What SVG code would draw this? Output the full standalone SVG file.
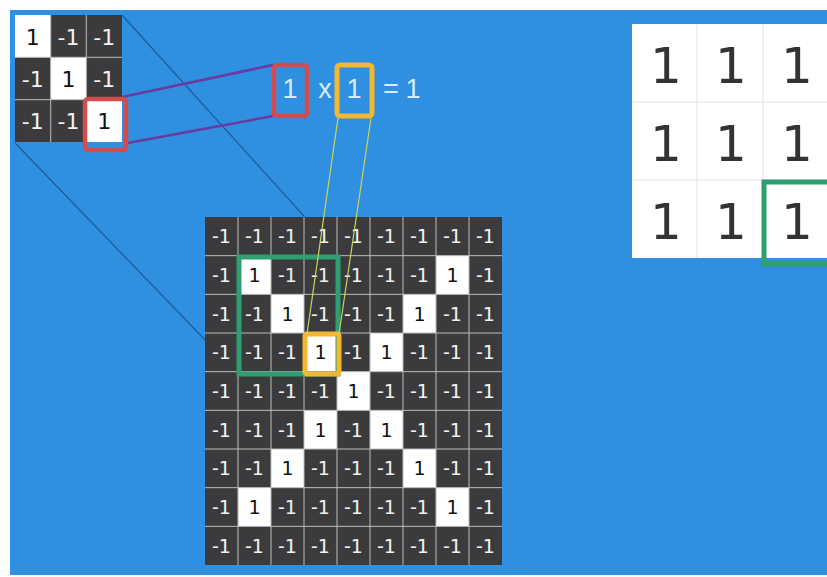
<svg xmlns="http://www.w3.org/2000/svg" width="827" height="577" viewBox="0 0 827 577">
<style>
.cell{fill:#3b3b3d}
.wcell{fill:#ffffff}
.gl{stroke:#bdbdbd;stroke-width:1}
.n{font-family:"DejaVu Sans",sans-serif;fill:#f2f2f2;text-anchor:middle;font-size:19px}
.p{font-family:"DejaVu Sans",sans-serif;fill:#111;text-anchor:middle;font-size:19px}
.kn{font-family:"DejaVu Sans",sans-serif;fill:#f2f2f2;text-anchor:middle;font-size:22px}
.kp{font-family:"DejaVu Sans",sans-serif;fill:#111;text-anchor:middle;font-size:22px}
.big{font-family:"DejaVu Sans",sans-serif;fill:#333;text-anchor:middle;font-size:50px}
.eq{font-family:"Liberation Sans",sans-serif;fill:#d8ecff;text-anchor:middle;font-size:27px}
.thin{stroke:#1d5a99;stroke-width:1.2;fill:none}
.purp{stroke:#6a3a9e;stroke-width:2.5;fill:none}
.yl{stroke:#c9d65a;stroke-width:1.2;fill:none}
.red{fill:none;stroke:#d24b4f;stroke-width:4.5}
.yel{fill:none;stroke:#f3b731;stroke-width:5}
.grn{fill:none;stroke:#2f9f72;stroke-width:5}
</style>
<rect x="0" y="0" width="827" height="577" fill="#ffffff"/>
<rect x="10" y="10" width="817" height="565" fill="#2f8fe0"/>

<g id="connectors">
<line class="thin" x1="122" y1="15" x2="340" y2="256"/>
<line class="thin" x1="15" y1="143" x2="238" y2="374"/>
<line class="purp" x1="122" y1="97" x2="273" y2="65"/>
<line class="purp" x1="128" y1="143" x2="273" y2="116"/>
</g>

<g id="kernel">
<rect x="15" y="15" width="107" height="127" class="cell"/>
<rect x="15" y="15" width="35.7" height="42.3" class="wcell"/>
<rect x="50.7" y="57.3" width="35.6" height="42.4" class="wcell"/>
<rect x="86.3" y="99.7" width="35.7" height="42.3" class="wcell"/>
<line class="gl" x1="50.7" y1="15" x2="50.7" y2="142"/>
<line class="gl" x1="86.3" y1="15" x2="86.3" y2="142"/>
<line class="gl" x1="15" y1="57.3" x2="122" y2="57.3"/>
<line class="gl" x1="15" y1="99.7" x2="122" y2="99.7"/>
<text class="kp" x="32.8" y="44.5">1</text>
<text class="kn" x="68.5" y="44.5">-1</text>
<text class="kn" x="104.2" y="44.5">-1</text>
<text class="kn" x="32.8" y="86.8">-1</text>
<text class="kp" x="68.5" y="86.8">1</text>
<text class="kn" x="104.2" y="86.8">-1</text>
<text class="kn" x="32.8" y="129">-1</text>
<text class="kn" x="68.5" y="129">-1</text>
<text class="kp" x="104.2" y="129">1</text>
<rect class="red" x="85" y="99" width="41" height="51" rx="3"/>
</g>

<g id="equation">
<rect class="red" x="274" y="65" width="33" height="51" rx="3"/>
<text class="eq" x="290" y="98">1</text>
<text class="eq" x="325" y="98">x</text>
<rect class="yel" x="337" y="65" width="35" height="51" rx="3"/>
<text class="eq" x="354" y="98">1</text>
<text class="eq" x="391" y="98">=</text>
<text class="eq" x="413" y="98">1</text>
</g>

<g id="image-grid">
<rect x="205" y="217" width="297" height="348" class="cell"/>
<rect class="wcell" x="238" y="255.67" width="33" height="38.67"/>
<rect class="wcell" x="436" y="255.67" width="33" height="38.67"/>
<rect class="wcell" x="271" y="294.33" width="33" height="38.67"/>
<rect class="wcell" x="403" y="294.33" width="33" height="38.67"/>
<rect class="wcell" x="304" y="333" width="33" height="38.67"/>
<rect class="wcell" x="370" y="333" width="33" height="38.67"/>
<rect class="wcell" x="337" y="371.67" width="33" height="38.67"/>
<rect class="wcell" x="304" y="410.33" width="33" height="38.67"/>
<rect class="wcell" x="370" y="410.33" width="33" height="38.67"/>
<rect class="wcell" x="271" y="449" width="33" height="38.67"/>
<rect class="wcell" x="403" y="449" width="33" height="38.67"/>
<rect class="wcell" x="238" y="487.67" width="33" height="38.67"/>
<rect class="wcell" x="436" y="487.67" width="33" height="38.67"/>
<g class="gl">
<line x1="238" y1="217" x2="238" y2="565"/>
<line x1="271" y1="217" x2="271" y2="565"/>
<line x1="304" y1="217" x2="304" y2="565"/>
<line x1="337" y1="217" x2="337" y2="565"/>
<line x1="370" y1="217" x2="370" y2="565"/>
<line x1="403" y1="217" x2="403" y2="565"/>
<line x1="436" y1="217" x2="436" y2="565"/>
<line x1="469" y1="217" x2="469" y2="565"/>
<line x1="205" y1="255.67" x2="502" y2="255.67"/>
<line x1="205" y1="294.33" x2="502" y2="294.33"/>
<line x1="205" y1="333" x2="502" y2="333"/>
<line x1="205" y1="371.67" x2="502" y2="371.67"/>
<line x1="205" y1="410.33" x2="502" y2="410.33"/>
<line x1="205" y1="449" x2="502" y2="449"/>
<line x1="205" y1="487.67" x2="502" y2="487.67"/>
<line x1="205" y1="526.33" x2="502" y2="526.33"/>
</g>
<!-- row 0 -->
<text class="n" x="221.5" y="243.3">-1</text><text class="n" x="254.5" y="243.3">-1</text><text class="n" x="287.5" y="243.3">-1</text><text class="n" x="320.5" y="243.3">-1</text><text class="n" x="353.5" y="243.3">-1</text><text class="n" x="386.5" y="243.3">-1</text><text class="n" x="419.5" y="243.3">-1</text><text class="n" x="452.5" y="243.3">-1</text><text class="n" x="485.5" y="243.3">-1</text>
<!-- row 1 -->
<text class="n" x="221.5" y="282">-1</text><text class="p" x="254.5" y="282">1</text><text class="n" x="287.5" y="282">-1</text><text class="n" x="320.5" y="282">-1</text><text class="n" x="353.5" y="282">-1</text><text class="n" x="386.5" y="282">-1</text><text class="n" x="419.5" y="282">-1</text><text class="p" x="452.5" y="282">1</text><text class="n" x="485.5" y="282">-1</text>
<!-- row 2 -->
<text class="n" x="221.5" y="320.7">-1</text><text class="n" x="254.5" y="320.7">-1</text><text class="p" x="287.5" y="320.7">1</text><text class="n" x="320.5" y="320.7">-1</text><text class="n" x="353.5" y="320.7">-1</text><text class="n" x="386.5" y="320.7">-1</text><text class="p" x="419.5" y="320.7">1</text><text class="n" x="452.5" y="320.7">-1</text><text class="n" x="485.5" y="320.7">-1</text>
<!-- row 3 -->
<text class="n" x="221.5" y="359.3">-1</text><text class="n" x="254.5" y="359.3">-1</text><text class="n" x="287.5" y="359.3">-1</text><text class="p" x="320.5" y="359.3">1</text><text class="n" x="353.5" y="359.3">-1</text><text class="p" x="386.5" y="359.3">1</text><text class="n" x="419.5" y="359.3">-1</text><text class="n" x="452.5" y="359.3">-1</text><text class="n" x="485.5" y="359.3">-1</text>
<!-- row 4 -->
<text class="n" x="221.5" y="398">-1</text><text class="n" x="254.5" y="398">-1</text><text class="n" x="287.5" y="398">-1</text><text class="n" x="320.5" y="398">-1</text><text class="p" x="353.5" y="398">1</text><text class="n" x="386.5" y="398">-1</text><text class="n" x="419.5" y="398">-1</text><text class="n" x="452.5" y="398">-1</text><text class="n" x="485.5" y="398">-1</text>
<!-- row 5 -->
<text class="n" x="221.5" y="436.7">-1</text><text class="n" x="254.5" y="436.7">-1</text><text class="n" x="287.5" y="436.7">-1</text><text class="p" x="320.5" y="436.7">1</text><text class="n" x="353.5" y="436.7">-1</text><text class="p" x="386.5" y="436.7">1</text><text class="n" x="419.5" y="436.7">-1</text><text class="n" x="452.5" y="436.7">-1</text><text class="n" x="485.5" y="436.7">-1</text>
<!-- row 6 -->
<text class="n" x="221.5" y="475.3">-1</text><text class="n" x="254.5" y="475.3">-1</text><text class="p" x="287.5" y="475.3">1</text><text class="n" x="320.5" y="475.3">-1</text><text class="n" x="353.5" y="475.3">-1</text><text class="n" x="386.5" y="475.3">-1</text><text class="p" x="419.5" y="475.3">1</text><text class="n" x="452.5" y="475.3">-1</text><text class="n" x="485.5" y="475.3">-1</text>
<!-- row 7 -->
<text class="n" x="221.5" y="514">-1</text><text class="p" x="254.5" y="514">1</text><text class="n" x="287.5" y="514">-1</text><text class="n" x="320.5" y="514">-1</text><text class="n" x="353.5" y="514">-1</text><text class="n" x="386.5" y="514">-1</text><text class="n" x="419.5" y="514">-1</text><text class="p" x="452.5" y="514">1</text><text class="n" x="485.5" y="514">-1</text>
<!-- row 8 -->
<text class="n" x="221.5" y="552.7">-1</text><text class="n" x="254.5" y="552.7">-1</text><text class="n" x="287.5" y="552.7">-1</text><text class="n" x="320.5" y="552.7">-1</text><text class="n" x="353.5" y="552.7">-1</text><text class="n" x="386.5" y="552.7">-1</text><text class="n" x="419.5" y="552.7">-1</text><text class="n" x="452.5" y="552.7">-1</text><text class="n" x="485.5" y="552.7">-1</text>
<rect class="grn" x="239" y="257" width="99" height="117"/>
<rect class="yel" x="305" y="334" width="34" height="40" rx="2"/>
</g>

<g id="yellow-links">
<line class="yl" x1="338" y1="118" x2="307" y2="334"/>
<line class="yl" x1="371" y1="118" x2="339" y2="334"/>
</g>

<g id="feature-map">
<rect x="632" y="24" width="195" height="234" fill="#ffffff"/>
<line stroke="#e2e2e2" stroke-width="1" x1="697" y1="24" x2="697" y2="258"/>
<line stroke="#e2e2e2" stroke-width="1" x1="763" y1="24" x2="763" y2="258"/>
<line stroke="#e2e2e2" stroke-width="1" x1="632" y1="102" x2="827" y2="102"/>
<line stroke="#e2e2e2" stroke-width="1" x1="632" y1="180" x2="827" y2="180"/>
<text class="big" x="666" y="83">1</text>
<text class="big" x="731" y="83">1</text>
<text class="big" x="797" y="83">1</text>
<text class="big" x="666" y="161">1</text>
<text class="big" x="731" y="161">1</text>
<text class="big" x="797" y="161">1</text>
<text class="big" x="666" y="239">1</text>
<text class="big" x="731" y="239">1</text>
<text class="big" x="797" y="239">1</text>
<rect class="grn" x="764" y="182" width="70" height="82"/>
</g>
</svg>
